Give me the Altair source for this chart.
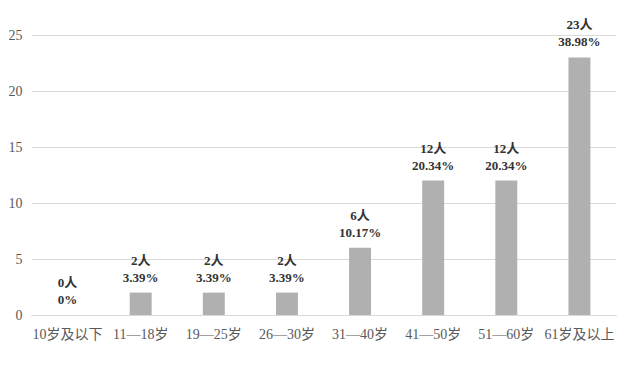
import altair as alt
import pandas as pd

categories = ["10岁及以下", "11—18岁", "19—25岁", "26—30岁", "31—40岁", "41—50岁", "51—60岁", "61岁及以上"]
counts = [0, 2, 2, 2, 6, 12, 12, 23]
percents = ["0%", "3.39%", "3.39%", "3.39%", "10.17%", "20.34%", "20.34%", "38.98%"]

df = pd.DataFrame({
    "cat": categories,
    "count": counts,
    "people": [f"{c}人" for c in counts],
    "pct": percents,
})

FONT = "Liberation Serif, Times New Roman, Noto Sans CJK SC"

x = alt.X("cat:N", sort=categories, title=None,
          scale=alt.Scale(paddingInner=0.7, paddingOuter=0.35),
          axis=alt.Axis(labelAngle=0, labelPadding=12, ticks=False,
                        domainColor="#d9d9d9", labelFontSize=14,
                        labelColor="#595959", labelFont=FONT))
y = alt.Y("count:Q", title=None,
          scale=alt.Scale(domain=[0, 25], nice=False),
          axis=alt.Axis(values=[0, 5, 10, 15, 20, 25], ticks=False, domain=False,
                        gridColor="#d9d9d9", labelPadding=9, labelFontSize=14,
                        labelColor="#595959", labelFont=FONT))

base = alt.Chart(df)
bars = base.mark_bar(color="#B0B0B0").encode(x=x, y=y)
txt_style = dict(baseline="alphabetic", fontSize=13, fontWeight="bold", font=FONT, color="#333333")
line1 = base.mark_text(dy=-28, **txt_style).encode(
    x=alt.X("cat:N", sort=categories), y="count:Q", text="people:N")
line2 = base.mark_text(dy=-11, **txt_style).encode(
    x=alt.X("cat:N", sort=categories), y="count:Q", text="pct:N")

chart = (bars + line1 + line2).properties(
    width=585, height=280,
    autosize=alt.AutoSizeParams(type="none"),
    padding={"left": 23, "top": 27, "right": 2, "bottom": 51},
    background="white",
).configure_view(stroke=None)

chart.save("out.html", embed_options={"renderer": "svg", "actions": False})
